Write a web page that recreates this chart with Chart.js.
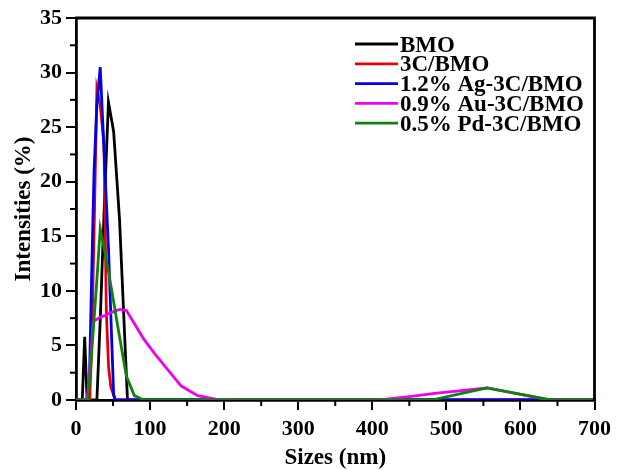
<!DOCTYPE html>
<html>
<head>
<meta charset="utf-8">
<title>Sizes distribution</title>
<script src="https://cdn.jsdelivr.net/npm/chart.js@4.4.1/dist/chart.umd.min.js"></script>
<style>
    html, body { margin: 0; padding: 0; background: #fff; }
    #wrap { width: 617px; height: 470px; }
</style>
</head>
<body>
<div id="wrap"><canvas id="sizeChart" width="617" height="470"></canvas></div>
<script>
// 数据
const seriesNames = ['BMO', '3C/BMO', '1.2% Ag-3C/BMO', '0.9% Au-3C/BMO', '0.5% Pd-3C/BMO'];
const seriesColors = ['#000000', '#e80000', '#0000e8', '#ee00ee', '#108010'];

const bmoX = [0, 8.5, 11.7, 15, 28.2, 32.7, 37.8, 43.8, 50.8, 58.8, 69.5, 700];
const bmoY = [0, 0, 5.8, 0, 0, 7.3, 17.0, 27.3, 24.6, 16.5, 0, 0];

const cbmoX = [0, 18.5, 21, 24.4, 28.2, 32.7, 37.8, 41, 44, 47, 53, 700];
const cbmoY = [0, 0, 4.5, 15.5, 28.5, 27, 23.5, 8, 3, 1.2, 0, 0];

const agX = [0, 15.7, 18.2, 21, 24.4, 28.2, 32.7, 37.8, 43.8, 50.8, 53, 700];
const agY = [0, 0, 2, 11, 21, 27, 30.5, 23, 14, 0.5, 0, 0];

const auX = [0, 13.5, 15.7, 19, 23.2, 28.2, 32.7, 37.8, 43.8, 50.8, 58.8, 68, 78.8, 91.3, 105.7, 122.4, 141.8, 164.2, 190.1, 220, 410, 450, 484, 555, 640, 700];
const auY = [0, 0, 0.5, 3, 7.2, 7.4, 7.6, 7.7, 7.9, 8.1, 8.3, 8.2, 7.0, 5.6, 4.3, 2.9, 1.3, 0.4, 0.05, 0, 0, 0.3, 0.6, 1.1, 0, 0];

const pdX = [0, 16, 18.2, 21, 24.4, 28.2, 32.7, 37.8, 43.8, 50.8, 58.8, 68, 78.8, 91.3, 480, 555, 640, 700];
const pdY = [0, 0, 1.6, 4.2, 7.4, 11, 15.7, 14, 11.8, 9, 5.8, 2.2, 0.4, 0, 0, 1.1, 0, 0];

// 坐标轴刻度
const xTicks = [0, 100, 200, 300, 400, 500, 600, 700];
const yTicks = [0, 5, 10, 15, 20, 25, 30, 35];

const allX = [bmoX, cbmoX, agX, auX, pdX];
const allY = [bmoY, cbmoY, agY, auY, pdY];

const serif = '"Liberation Serif", "Times New Roman", serif';

function toPoints(xs, ys) {
    return xs.map((x, i) => ({ x: x, y: ys[i] }));
}

// 图例、次刻度、外框
const extrasPlugin = {
    id: 'extras',
    afterDraw(chart) {
        const ctx = chart.ctx;
        const area = chart.chartArea;
        const xs = chart.scales.x;
        const ys = chart.scales.y;
        ctx.save();
        ctx.strokeStyle = '#000';
        ctx.lineWidth = 2.8;
        ctx.beginPath();
        ctx.moveTo(area.left - 1, area.top);
        ctx.lineTo(area.right, area.top);
        ctx.lineTo(area.right, area.bottom);
        ctx.stroke();

        ctx.lineWidth = 2;
        for (let i = 0; i < xTicks.length - 1; i++) {
            const px = xs.getPixelForValue((xTicks[i] + xTicks[i + 1]) / 2);
            ctx.beginPath();
            ctx.moveTo(px, area.bottom);
            ctx.lineTo(px, area.bottom + 6);
            ctx.stroke();
        }
        for (let i = 0; i < yTicks.length - 1; i++) {
            const py = ys.getPixelForValue((yTicks[i] + yTicks[i + 1]) / 2);
            ctx.beginPath();
            ctx.moveTo(area.left, py);
            ctx.lineTo(area.left - 6, py);
            ctx.stroke();
        }

        ctx.font = 'bold 23px ' + serif;
        ctx.textAlign = 'left';
        ctx.textBaseline = 'alphabetic';
        chart.data.datasets.forEach((ds, i) => {
            const y = 44 + i * 19.8;
            ctx.strokeStyle = ds.borderColor;
            ctx.lineWidth = 2.8;
            ctx.beginPath();
            ctx.moveTo(355, y);
            ctx.lineTo(398, y);
            ctx.stroke();
            ctx.fillStyle = '#000';
            ctx.fillText(ds.label, 400, y + 7.5);
        });
        ctx.restore();
    }
};

const datasets = seriesNames.map((name, i) => ({
    label: name,
    data: toPoints(allX[i], allY[i]),
    borderColor: seriesColors[i],
    backgroundColor: seriesColors[i],
    borderWidth: 2.8,
    pointRadius: 0,
    tension: 0,
    fill: false,
    order: seriesNames.length - i
}));

new Chart(document.getElementById('sizeChart'), {
    type: 'line',
    data: { datasets: datasets },
    plugins: [extrasPlugin],
    options: {
        responsive: false,
        animation: false,
        layout: { padding: { top: 18, right: 20, left: 0, bottom: 0 } },
        plugins: {
            legend: { display: false },
            tooltip: { enabled: false }
        },
        scales: {
            x: {
                type: 'linear',
                min: 0,
                max: 700,
                afterFit: (scale) => { scale.height = 70; },
                afterBuildTicks: (scale) => { scale.ticks = xTicks.map(v => ({ value: v })); },
                border: { color: '#000', width: 2.8 },
                grid: { drawOnChartArea: false, color: '#000', tickLength: 10, lineWidth: 2 },
                ticks: {
                    color: '#000',
                    padding: 6,
                    maxRotation: 0,
                    font: { family: serif, size: 22, weight: 'bold' }
                },
                title: {
                    display: true,
                    text: 'Sizes (nm)',
                    color: '#000',
                    padding: { top: 0, bottom: 0 },
                    font: { family: serif, size: 23, weight: 'bold', lineHeight: 1 }
                }
            },
            y: {
                min: 0,
                max: 35,
                afterFit: (scale) => { scale.width = 76; },
                afterBuildTicks: (scale) => { scale.ticks = yTicks.map(v => ({ value: v })); },
                border: { color: '#000', width: 2.8 },
                grid: { drawOnChartArea: false, color: '#000', tickLength: 10, lineWidth: 2 },
                ticks: {
                    color: '#000',
                    padding: 4,
                    font: { family: serif, size: 22, weight: 'bold' }
                },
                title: {
                    display: true,
                    text: 'Intensities (%)',
                    color: '#000',
                    padding: { top: 13, bottom: 0 },
                    font: { family: serif, size: 23, weight: 'bold', lineHeight: 1 }
                }
            }
        }
    }
});
</script>
</body>
</html>
